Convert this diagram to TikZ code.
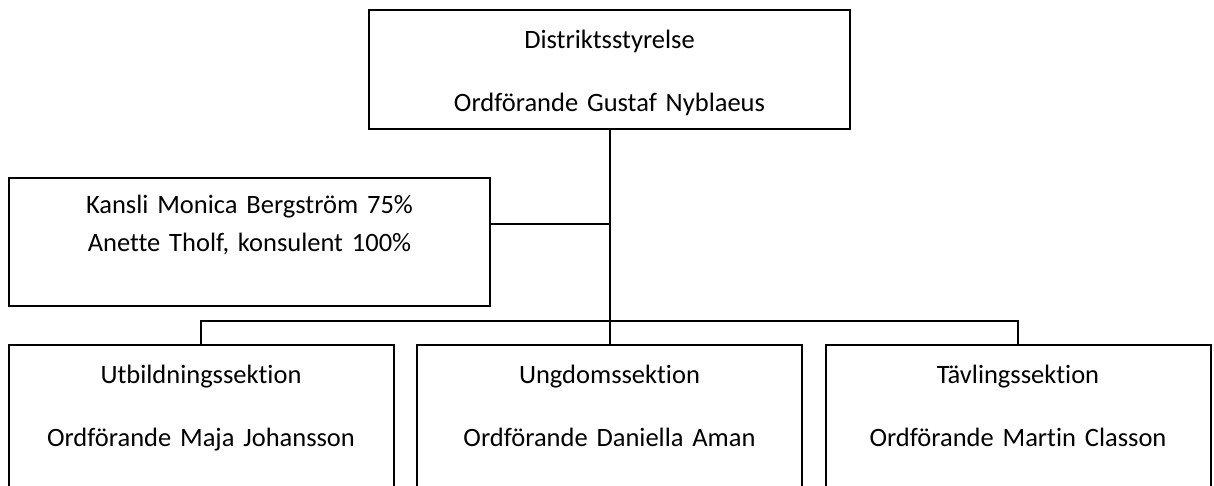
\documentclass[tikz,border=0pt]{standalone}
\usepackage{fontspec}
\setmainfont{Carlito}[Ligatures={NoCommon,NoRequired}]

\tikzset{
  orgbox/.style={draw, anchor=north, inner sep=0pt, align=center},
  headbox/.style={orgbox, text width=240.5pt, text height=19.25pt, text depth=40.25pt,
    font=\fontsize{13.25}{31.5}\selectfont},
  officebox/.style={orgbox, text width=240.5pt, text height=17.75pt, text depth=46.25pt,
    font=\fontsize{13.25}{19}\selectfont},
  sectionbox/.style={orgbox, text width=192.5pt, text height=19.25pt, text depth=68.75pt,
    font=\fontsize{13.25}{31.5}\selectfont}
}

\begin{document}
\begin{tikzpicture}[x=0.5pt, y=-0.5pt, line width=1pt]
  \useasboundingbox (0,0) rectangle (1214,486);
  \clip (0,0) rectangle (1214,486);
  \node[headbox]    (N1) at (609.5,9)  {Distriktsstyrelse\\Ordförande Gustaf Nyblaeus};
  \node[officebox]  (N2) at (249.5,177) {Kansli Monica Bergström 75\%\\Anette Tholf, konsulent 100\%};
  \node[sectionbox] (N3) at (201,344)   {Utbildningssektion\\Ordförande Maja Johansson};
  \node[sectionbox] (N4) at (609.5,344) {Ungdomssektion\\Ordförande Daniella Aman};
  \node[sectionbox] (N5) at (1018,344)  {Tävlingssektion\\Ordförande Martin Classon};
  \coordinate (J) at (609.5,224);
  \draw (N1.south) -- (N4.north);
  \draw (N2.east |- J) -- (J);
  \draw (N3.north) -- ++(0,-23) -| (N5.north);
\end{tikzpicture}
\end{document}
